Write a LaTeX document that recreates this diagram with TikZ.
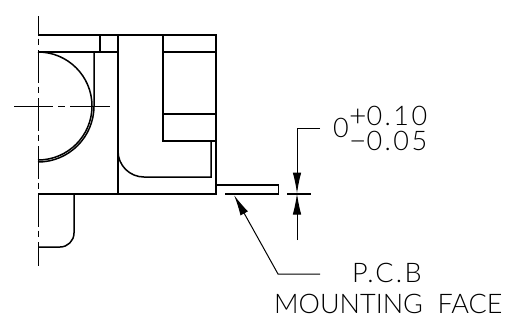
\documentclass[tikz,border=0pt]{standalone}
\usepackage{fontspec}
\setmainfont{Lato Light}
\newfontfamily\spacedfont[LetterSpace=9]{Lato Light}
\newcommand{\bigsign}[1]{\smash{\raisebox{-1pt}{\fontsize{30}{30}\selectfont #1}}}
\usetikzlibrary{arrows.meta}
\tikzset{
  outline/.style={line width=1.5pt, line join=miter},
  thin line/.style={line width=1pt},
  center line/.style={line width=1pt, dash pattern=on 33pt off 3.5pt on 6.5pt off 5pt},
  dim tip/.style={-{Latex[length=21pt,width=8.5pt]}, line width=1pt},
  label/.style={inner sep=0pt, font=\fontsize{27}{27}\selectfont, anchor=base west},
  spaced label/.style={label, text height=20pt, text depth=0pt, font=\fontsize{27}{27}\spacedfont}
}
\begin{document}
\begin{tikzpicture}[x=1pt, y=-1pt]
    \useasboundingbox (0,0) rectangle (510,327);
    % center lines
    \draw[center line, dash phase=14pt] (38,16) -- (38,266);
    \draw[thin line] (14,106) -- (53,106);
    \draw[thin line] (58,106) -- (65,106);
    \draw[thin line] (70,106) -- (110,106);
    % body
    \draw[outline] (38,35) -- (216,35) -- (216,194) -- (38,194);
    \draw[outline] (38,52) -- (118,52);
    \draw[outline] (100,35) -- (100,52);
    \draw[outline] (118,35) -- (118,194);
    \draw[outline] (163,35) -- (163,141) -- (216,141);
    \draw[outline] (163,52) -- (216,52);
    \draw[outline] (163,114) -- (216,114);
    % roller
    \draw[outline] (38,52) arc[start angle=-90, end angle=90, radius=54];
    \draw[outline] (94,52) -- (94,106) arc[start angle=0, end angle=90, radius=56];
    % inner pocket
    \draw[outline] (211,141) -- (211,177) -- (144,177) arc[start angle=90, end angle=180, radius=26];
    % foot
    \draw[outline] (74,194) -- (74,233) arc[start angle=0, end angle=90, radius=14] -- (38,247);
    % pcb
    \draw[outline] (216,185) -- (278.5,185) -- (278.5,194);
    \draw[line width=1.9pt] (225,194) -- (279,194);
    \draw[line width=1.9pt] (287,194) -- (311,194);
    % dimension
    \coordinate (dimtop) at (320,128);
    \coordinate (dimknee) at (297,128);
    \coordinate (dimface) at (297,193.5);
    \coordinate (dimlow) at (297,240);
    \draw[dim tip] (dimtop) -- (dimknee) -- (dimface);
    \draw[dim tip] (dimlow) -- (dimface);
    % leader
    \coordinate (leadend) at (320,274);
    \coordinate (leadknee) at (278,274);
    \coordinate (leadtip) at (234,195);
    \draw[dim tip] (leadend) -- (leadknee) -- (leadtip);
    % labels
    \node[spaced label] (zero) at (333,137) {0};
    \node[spaced label] (upper) at (349,125) {\bigsign{+}0.10};
    \node[spaced label] (lower) at (349,150) {\bigsign{−}0.05};
    \node[spaced label] (pcb) at (352,282) {P.C.B};
    \node[label] (face) at (274,313) {MOUNTING\ \ FACE};
\end{tikzpicture}
\end{document}
